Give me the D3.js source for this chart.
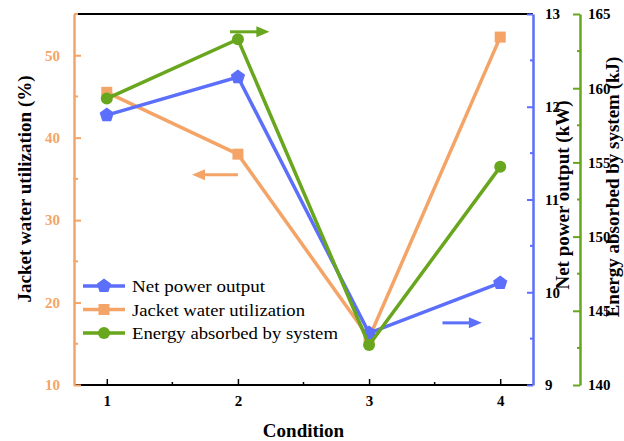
<!DOCTYPE html>
<html><head><meta charset="utf-8">
<script src="https://cdn.jsdelivr.net/npm/d3@7"></script>
<style>body{margin:0;background:#fff}svg{display:block}</style>
</head><body><svg id="c" width="624" height="441"></svg>
<script>
const conditions = [1, 2, 3, 4];
const netPower = [11.91, 12.32, 9.56, 10.10];        // kW
const jacketUtil = [45.5, 38.0, 15.7, 52.2];          // %
const energyAbs = [159.3, 163.3, 142.7, 154.7];       // kJ
const leftTicks = [10, 20, 30, 40, 50];
const blueTicks = [9, 10, 11, 12, 13];
const greenTicks = [140, 145, 150, 155, 160, 165];
const seriesNames = ["Net power output", "Jacket water utilization", "Energy absorbed by system"];

const FONT = "'Liberation Serif', 'Times New Roman', 'DejaVu Serif', serif";
const BLUE = "#5b6ffa", ORANGE = "#f4a467", GREEN = "#67a61d";
const svg = d3.select("#c").attr("font-family", FONT);
const L = 74, R = 533, T = 14, B = 385, G = 580;

const x = d3.scaleLinear().domain([0.75, 4.25]).range([L, R]);
const yL = d3.scaleLinear().domain([10, 55]).range([B, T]);
const yB = d3.scaleLinear().domain([9, 13]).range([B, T]);
const yG = d3.scaleLinear().domain([140, 165]).range([B, T]);

// top border
svg.append("line").attr("x1", L).attr("x2", R).attr("y1", T).attr("y2", T).attr("stroke", "#000").attr("stroke-width", 2);

// bottom axis
const bx = svg.append("g").attr("transform", `translate(0,${B})`);
bx.call(d3.axisBottom(x).tickValues(conditions).tickSize(-6).tickPadding(10).tickFormat(d3.format("d")));
bx.attr("font-family", FONT);
bx.select(".domain").attr("stroke-width", 2).attr("d", `M${L},0H${R}`);
bx.selectAll(".tick line").attr("stroke-width", 1.5);
bx.selectAll("text").attr("font-size", 15).attr("font-weight", "bold").attr("fill", "#000");
bx.selectAll(".minor").data([1.5, 2.5, 3.5]).enter().append("line").attr("class", "minor")
  .attr("x1", d => x(d)).attr("x2", d => x(d)).attr("y1", 0).attr("y2", -3).attr("stroke", "#000").attr("stroke-width", 1.5);

function styleAxis(g, color, labelColor) {
  g.attr("font-family", FONT);
  g.select(".domain").attr("stroke", color).attr("stroke-width", 2.5);
  g.selectAll(".tick line").attr("stroke", color).attr("stroke-width", 2);
  g.selectAll("text").attr("font-size", 15).attr("font-weight", "bold").attr("fill", labelColor);
}
// left axis
const la = svg.append("g").attr("transform", `translate(${L},0)`);
la.call(d3.axisLeft(yL).tickValues(leftTicks).tickSize(-7).tickPadding(14).tickSizeOuter(0).tickFormat(d3.format("d")));
styleAxis(la, ORANGE, ORANGE);
la.selectAll(".minor").data([15, 25, 35, 45, 55]).enter().append("line").attr("class", "minor")
  .attr("x1", 0).attr("x2", 4).attr("y1", d => yL(d)).attr("y2", d => yL(d)).attr("stroke", ORANGE).attr("stroke-width", 2);

// blue right axis
const ba = svg.append("g").attr("transform", `translate(${R},0)`);
ba.call(d3.axisRight(yB).tickValues(blueTicks).tickSize(-6).tickPadding(12).tickSizeOuter(0).tickFormat(d3.format("d")));
styleAxis(ba, BLUE, "#000");
ba.selectAll(".minor").data([9.5, 10.5, 11.5, 12.5]).enter().append("line").attr("class", "minor")
  .attr("x1", 0).attr("x2", -3).attr("y1", d => yB(d)).attr("y2", d => yB(d)).attr("stroke", BLUE).attr("stroke-width", 2);

// green right axis
const ga = svg.append("g").attr("transform", `translate(${G},0)`);
ga.call(d3.axisRight(yG).tickValues(greenTicks).tickSize(-7).tickPadding(8).tickSizeOuter(0).tickFormat(d3.format("d")));
styleAxis(ga, GREEN, "#000");
ga.selectAll(".minor").data([142.5, 147.5, 152.5, 157.5, 162.5]).enter().append("line").attr("class", "minor")
  .attr("x1", 0).attr("x2", -3).attr("y1", d => yG(d)).attr("y2", d => yG(d)).attr("stroke", GREEN).attr("stroke-width", 2);

// axis titles
svg.append("text").attr("transform", `translate(31,${189}) rotate(-90)`).attr("text-anchor", "middle")
  .attr("font-size", 19).attr("font-weight", "bold").text("Jacket water utilization (%)");
svg.append("text").attr("transform", `translate(569,${195}) rotate(-90)`).attr("text-anchor", "middle")
  .attr("font-size", 19).attr("font-weight", "bold").text("Net power output (kW)");
svg.append("text").attr("transform", `translate(619,${187}) rotate(-90)`).attr("text-anchor", "middle")
  .attr("font-size", 19).attr("font-weight", "bold").text("Energy absorbed by system (kJ)");
svg.append("text").attr("x", (L + R) / 2).attr("y", 437).attr("text-anchor", "middle")
  .attr("font-size", 19).attr("font-weight", "bold").text("Condition");

// series lines
const lw = 3.5;
function drawSeries(vals, ys, color, marker) {
  const line = d3.line().x((d, i) => x(conditions[i])).y(d => ys(d));
  svg.append("path").datum(vals).attr("d", line).attr("fill", "none").attr("stroke", color).attr("stroke-width", lw);
  const g = svg.append("g");
  vals.forEach((v, i) => marker(g, x(conditions[i]), ys(v), color));
}
const pentSym = { draw(ctx) { const r = 7.5; for (let k = 0; k < 5; k++) { const a = -Math.PI / 2 + k * 2 * Math.PI / 5; const px = r * Math.cos(a), py = r * Math.sin(a); k ? ctx.lineTo(px, py) : ctx.moveTo(px, py); } ctx.closePath(); } };
const pentagon = (g, cx, cy, c) => g.append("path").attr("d", d3.symbol(pentSym, 1)()).attr("transform", `translate(${cx},${cy})`).attr("fill", c);
const square = (g, cx, cy, c) => g.append("rect").attr("x", cx - 5.5).attr("y", cy - 5.5).attr("width", 11).attr("height", 11).attr("fill", c);
const circle = (g, cx, cy, c) => g.append("circle").attr("cx", cx).attr("cy", cy).attr("r", 6).attr("fill", c);

drawSeries(jacketUtil, yL, ORANGE, square);
drawSeries(netPower, yB, BLUE, pentagon);
drawSeries(energyAbs, yG, GREEN, circle);

// direction arrows (data-space anchors)
function arrow(x1, x2, yv, ys, color) {
  const X1 = x(x1), X2 = x(x2), Y = ys(yv);
  const dir = Math.sign(X2 - X1);
  svg.append("line").attr("x1", X1).attr("x2", X2 - dir * 10).attr("y1", Y).attr("y2", Y).attr("stroke", color).attr("stroke-width", 3);
  svg.append("path").attr("d", `M${X2},${Y}L${X2 - dir * 13},${Y - 5.5}L${X2 - dir * 13},${Y + 5.5}Z`).attr("fill", color);
}
arrow(1.94, 2.24, 163.8, yG, GREEN);
arrow(2.0, 1.65, 35.5, yL, ORANGE);
arrow(3.56, 3.86, 9.67, yB, BLUE);

// legend
const legendColors = [BLUE, ORANGE, GREEN];
const legendMarkers = [pentagon, square, circle];
const legendWidths = [133, 173, 206];
const lg = svg.append("g");
seriesNames.forEach((name, i) => {
  const yy = 286 + i * 23.5;
  lg.append("line").attr("x1", 83).attr("x2", 125).attr("y1", yy).attr("y2", yy).attr("stroke", legendColors[i]).attr("stroke-width", 3.5);
  legendMarkers[i](lg, 104, yy, legendColors[i]);
  lg.append("text").attr("x", 132).attr("y", yy + 6).attr("font-size", 17.5).attr("fill", "#000")
    .attr("textLength", legendWidths[i]).attr("lengthAdjust", "spacingAndGlyphs").text(name);
});
</script></body></html>
